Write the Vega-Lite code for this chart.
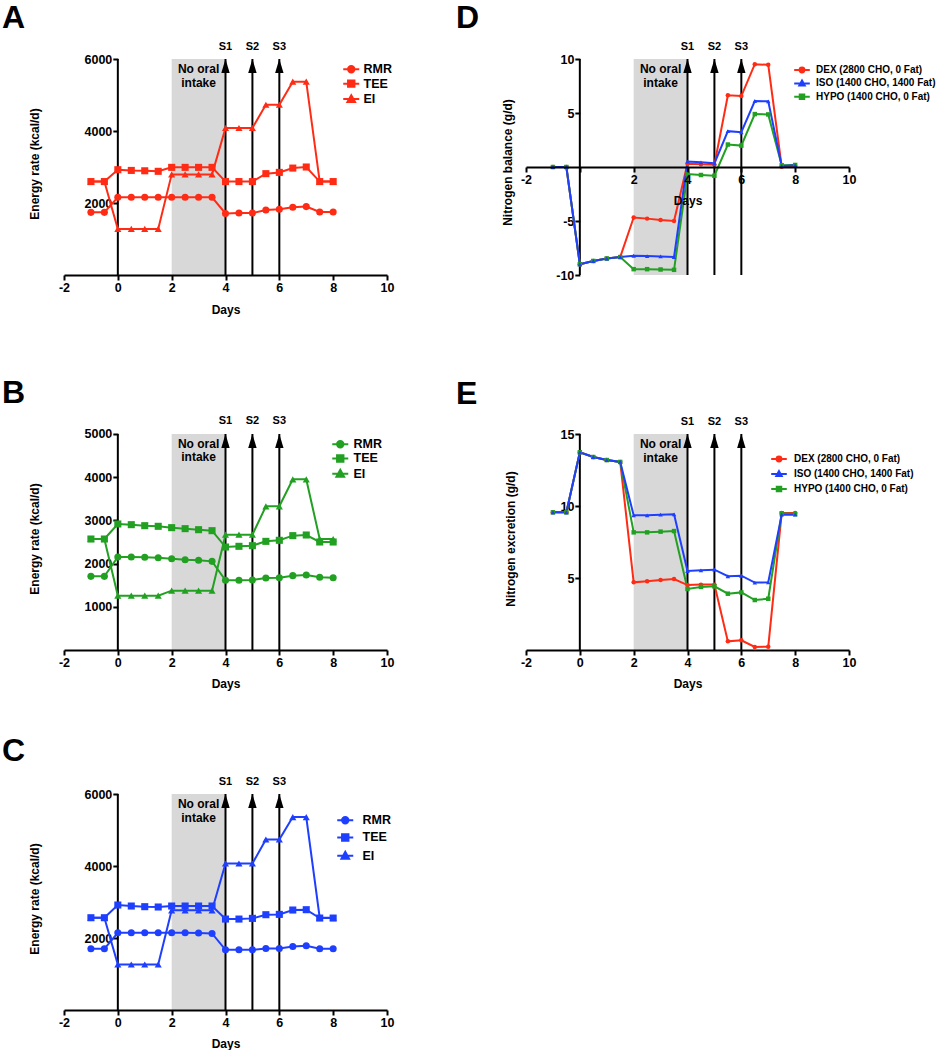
{
"$schema":"https://vega.github.io/schema/vega-lite/v6.json",
"padding":{"left":2,"top":1,"right":0,"bottom":0},
"columns":2,
"bounds":"flush",
"spacing":{"row":144,"column":139},
"resolve":{"scale":{"color":"independent","shape":"independent"},"legend":{"color":"independent","shape":"independent"}},
"config":{
 "font":"Liberation Sans",
 "view":{"stroke":null},
 "axis":{"domainColor":"black","domainWidth":2,"tickColor":"black","tickWidth":2,"tickSize":5,"labelColor":"black","titleColor":"black","labelFont":"Liberation Sans","titleFont":"Liberation Sans","labelFontSize":12.5,"labelFontWeight":"bold","titleFontSize":12,"titleFontWeight":"bold","labelPadding":1,"labelFlush":false,"labelOverlap":false,"grid":false,"labelExpr":"'' + datum.value"}
},
"datasets":{
 "shade":[{"from":2,"to":4}],
 "origin":[{"day":0}],
 "arrows":[{"day":4,"label":"S1"},{"day":5,"label":"S2"},{"day":6,"label":"S3"}],
 "note":[{"day":3,"text":"No oral\nintake"}],
 "dA":[
  {"day":-1,"measure":"RMR","kcal":1740},{"day":-0.5,"measure":"RMR","kcal":1740},{"day":0,"measure":"RMR","kcal":2160},{"day":0.5,"measure":"RMR","kcal":2160},{"day":1,"measure":"RMR","kcal":2160},{"day":1.5,"measure":"RMR","kcal":2160},{"day":2,"measure":"RMR","kcal":2160},{"day":2.5,"measure":"RMR","kcal":2160},{"day":3,"measure":"RMR","kcal":2160},{"day":3.5,"measure":"RMR","kcal":2160},{"day":4,"measure":"RMR","kcal":1710},{"day":4.5,"measure":"RMR","kcal":1720},{"day":5,"measure":"RMR","kcal":1720},{"day":5.5,"measure":"RMR","kcal":1805},{"day":6,"measure":"RMR","kcal":1825},{"day":6.5,"measure":"RMR","kcal":1880},{"day":7,"measure":"RMR","kcal":1900},{"day":7.5,"measure":"RMR","kcal":1750},{"day":8,"measure":"RMR","kcal":1750},
  {"day":-1,"measure":"TEE","kcal":2595},{"day":-0.5,"measure":"TEE","kcal":2595},{"day":0,"measure":"TEE","kcal":2925},{"day":0.5,"measure":"TEE","kcal":2905},{"day":1,"measure":"TEE","kcal":2895},{"day":1.5,"measure":"TEE","kcal":2880},{"day":2,"measure":"TEE","kcal":2990},{"day":2.5,"measure":"TEE","kcal":2990},{"day":3,"measure":"TEE","kcal":2990},{"day":3.5,"measure":"TEE","kcal":2990},{"day":4,"measure":"TEE","kcal":2595},{"day":4.5,"measure":"TEE","kcal":2595},{"day":5,"measure":"TEE","kcal":2595},{"day":5.5,"measure":"TEE","kcal":2815},{"day":6,"measure":"TEE","kcal":2850},{"day":6.5,"measure":"TEE","kcal":2970},{"day":7,"measure":"TEE","kcal":3000},{"day":7.5,"measure":"TEE","kcal":2595},{"day":8,"measure":"TEE","kcal":2595},
  {"day":-1,"measure":"EI","kcal":2595},{"day":-0.5,"measure":"EI","kcal":2595},{"day":0,"measure":"EI","kcal":1280},{"day":0.5,"measure":"EI","kcal":1280},{"day":1,"measure":"EI","kcal":1280},{"day":1.5,"measure":"EI","kcal":1280},{"day":2,"measure":"EI","kcal":2795},{"day":2.5,"measure":"EI","kcal":2795},{"day":3,"measure":"EI","kcal":2795},{"day":3.5,"measure":"EI","kcal":2795},{"day":4,"measure":"EI","kcal":4085},{"day":4.5,"measure":"EI","kcal":4085},{"day":5,"measure":"EI","kcal":4085},{"day":5.5,"measure":"EI","kcal":4730},{"day":6,"measure":"EI","kcal":4730},{"day":6.5,"measure":"EI","kcal":5370},{"day":7,"measure":"EI","kcal":5370},{"day":7.5,"measure":"EI","kcal":2595},{"day":8,"measure":"EI","kcal":2595}
 ],
 "dB":[
  {"day":-1,"measure":"RMR","kcal":1705},{"day":-0.5,"measure":"RMR","kcal":1705},{"day":0,"measure":"RMR","kcal":2153},{"day":0.5,"measure":"RMR","kcal":2153},{"day":1,"measure":"RMR","kcal":2145},{"day":1.5,"measure":"RMR","kcal":2137},{"day":2,"measure":"RMR","kcal":2114},{"day":2.5,"measure":"RMR","kcal":2091},{"day":3,"measure":"RMR","kcal":2076},{"day":3.5,"measure":"RMR","kcal":2052},{"day":4,"measure":"RMR","kcal":1613},{"day":4.5,"measure":"RMR","kcal":1613},{"day":5,"measure":"RMR","kcal":1620},{"day":5.5,"measure":"RMR","kcal":1667},{"day":6,"measure":"RMR","kcal":1674},{"day":6.5,"measure":"RMR","kcal":1721},{"day":7,"measure":"RMR","kcal":1736},{"day":7.5,"measure":"RMR","kcal":1682},{"day":8,"measure":"RMR","kcal":1674},
  {"day":-1,"measure":"TEE","kcal":2569},{"day":-0.5,"measure":"TEE","kcal":2569},{"day":0,"measure":"TEE","kcal":2917},{"day":0.5,"measure":"TEE","kcal":2901},{"day":1,"measure":"TEE","kcal":2878},{"day":1.5,"measure":"TEE","kcal":2863},{"day":2,"measure":"TEE","kcal":2832},{"day":2.5,"measure":"TEE","kcal":2809},{"day":3,"measure":"TEE","kcal":2785},{"day":3.5,"measure":"TEE","kcal":2762},{"day":4,"measure":"TEE","kcal":2384},{"day":4.5,"measure":"TEE","kcal":2400},{"day":5,"measure":"TEE","kcal":2415},{"day":5.5,"measure":"TEE","kcal":2515},{"day":6,"measure":"TEE","kcal":2539},{"day":6.5,"measure":"TEE","kcal":2647},{"day":7,"measure":"TEE","kcal":2662},{"day":7.5,"measure":"TEE","kcal":2500},{"day":8,"measure":"TEE","kcal":2500},
  {"day":-1,"measure":"EI","kcal":2569},{"day":-0.5,"measure":"EI","kcal":2569},{"day":0,"measure":"EI","kcal":1258},{"day":0.5,"measure":"EI","kcal":1258},{"day":1,"measure":"EI","kcal":1258},{"day":1.5,"measure":"EI","kcal":1258},{"day":2,"measure":"EI","kcal":1373},{"day":2.5,"measure":"EI","kcal":1373},{"day":3,"measure":"EI","kcal":1373},{"day":3.5,"measure":"EI","kcal":1373},{"day":4,"measure":"EI","kcal":2670},{"day":4.5,"measure":"EI","kcal":2670},{"day":5,"measure":"EI","kcal":2670},{"day":5.5,"measure":"EI","kcal":3326},{"day":6,"measure":"EI","kcal":3326},{"day":6.5,"measure":"EI","kcal":3951},{"day":7,"measure":"EI","kcal":3951},{"day":7.5,"measure":"EI","kcal":2569},{"day":8,"measure":"EI","kcal":2569}
 ],
 "dC":[
  {"day":-1,"measure":"RMR","kcal":1700},{"day":-0.5,"measure":"RMR","kcal":1700},{"day":0,"measure":"RMR","kcal":2145},{"day":0.5,"measure":"RMR","kcal":2145},{"day":1,"measure":"RMR","kcal":2145},{"day":1.5,"measure":"RMR","kcal":2145},{"day":2,"measure":"RMR","kcal":2145},{"day":2.5,"measure":"RMR","kcal":2145},{"day":3,"measure":"RMR","kcal":2140},{"day":3.5,"measure":"RMR","kcal":2127},{"day":4,"measure":"RMR","kcal":1672},{"day":4.5,"measure":"RMR","kcal":1672},{"day":5,"measure":"RMR","kcal":1672},{"day":5.5,"measure":"RMR","kcal":1709},{"day":6,"measure":"RMR","kcal":1709},{"day":6.5,"measure":"RMR","kcal":1765},{"day":7,"measure":"RMR","kcal":1783},{"day":7.5,"measure":"RMR","kcal":1700},{"day":8,"measure":"RMR","kcal":1700},
  {"day":-1,"measure":"TEE","kcal":2563},{"day":-0.5,"measure":"TEE","kcal":2563},{"day":0,"measure":"TEE","kcal":2916},{"day":0.5,"measure":"TEE","kcal":2888},{"day":1,"measure":"TEE","kcal":2870},{"day":1.5,"measure":"TEE","kcal":2861},{"day":2,"measure":"TEE","kcal":2888},{"day":2.5,"measure":"TEE","kcal":2888},{"day":3,"measure":"TEE","kcal":2888},{"day":3.5,"measure":"TEE","kcal":2888},{"day":4,"measure":"TEE","kcal":2526},{"day":4.5,"measure":"TEE","kcal":2526},{"day":5,"measure":"TEE","kcal":2545},{"day":5.5,"measure":"TEE","kcal":2647},{"day":6,"measure":"TEE","kcal":2656},{"day":6.5,"measure":"TEE","kcal":2777},{"day":7,"measure":"TEE","kcal":2786},{"day":7.5,"measure":"TEE","kcal":2554},{"day":8,"measure":"TEE","kcal":2554},
  {"day":-1,"measure":"EI","kcal":2563},{"day":-0.5,"measure":"EI","kcal":2563},{"day":0,"measure":"EI","kcal":1263},{"day":0.5,"measure":"EI","kcal":1263},{"day":1,"measure":"EI","kcal":1263},{"day":1.5,"measure":"EI","kcal":1263},{"day":2,"measure":"EI","kcal":2768},{"day":2.5,"measure":"EI","kcal":2768},{"day":3,"measure":"EI","kcal":2768},{"day":3.5,"measure":"EI","kcal":2768},{"day":4,"measure":"EI","kcal":4068},{"day":4.5,"measure":"EI","kcal":4068},{"day":5,"measure":"EI","kcal":4068},{"day":5.5,"measure":"EI","kcal":4737},{"day":6,"measure":"EI","kcal":4737},{"day":6.5,"measure":"EI","kcal":5359},{"day":7,"measure":"EI","kcal":5359},{"day":7.5,"measure":"EI","kcal":2563},{"day":8,"measure":"EI","kcal":2563}
 ],
 "dD":[
  {"day":-1,"diet":"DEX","balance":0},{"day":-0.5,"diet":"DEX","balance":0},{"day":0,"diet":"DEX","balance":-9.0},{"day":0.5,"diet":"DEX","balance":-8.7},{"day":1,"diet":"DEX","balance":-8.47},{"day":1.5,"diet":"DEX","balance":-8.34},{"day":2,"diet":"DEX","balance":-4.68},{"day":2.5,"diet":"DEX","balance":-4.78},{"day":3,"diet":"DEX","balance":-4.9},{"day":3.5,"diet":"DEX","balance":-4.99},{"day":4,"diet":"DEX","balance":0.31},{"day":4.5,"diet":"DEX","balance":0.25},{"day":5,"diet":"DEX","balance":0.22},{"day":5.5,"diet":"DEX","balance":6.64},{"day":6,"diet":"DEX","balance":6.57},{"day":6.5,"diet":"DEX","balance":9.52},{"day":7,"diet":"DEX","balance":9.46},{"day":7.5,"diet":"DEX","balance":0.03},{"day":8,"diet":"DEX","balance":0.12},
  {"day":-1,"diet":"HYPO","balance":0},{"day":-0.5,"diet":"HYPO","balance":0},{"day":0,"diet":"HYPO","balance":-9.0},{"day":0.5,"diet":"HYPO","balance":-8.7},{"day":1,"diet":"HYPO","balance":-8.47},{"day":1.5,"diet":"HYPO","balance":-8.34},{"day":2,"diet":"HYPO","balance":-9.46},{"day":2.5,"diet":"HYPO","balance":-9.46},{"day":3,"diet":"HYPO","balance":-9.49},{"day":3.5,"diet":"HYPO","balance":-9.52},{"day":4,"diet":"HYPO","balance":-0.65},{"day":4.5,"diet":"HYPO","balance":-0.74},{"day":5,"diet":"HYPO","balance":-0.81},{"day":5.5,"diet":"HYPO","balance":2.08},{"day":6,"diet":"HYPO","balance":1.98},{"day":6.5,"diet":"HYPO","balance":4.9},{"day":7,"diet":"HYPO","balance":4.87},{"day":7.5,"diet":"HYPO","balance":0.16},{"day":8,"diet":"HYPO","balance":0.19},
  {"day":-1,"diet":"ISO","balance":0},{"day":-0.5,"diet":"ISO","balance":0},{"day":0,"diet":"ISO","balance":-9.0},{"day":0.5,"diet":"ISO","balance":-8.7},{"day":1,"diet":"ISO","balance":-8.47},{"day":1.5,"diet":"ISO","balance":-8.34},{"day":2,"diet":"ISO","balance":-8.22},{"day":2.5,"diet":"ISO","balance":-8.25},{"day":3,"diet":"ISO","balance":-8.28},{"day":3.5,"diet":"ISO","balance":-8.34},{"day":4,"diet":"ISO","balance":0.5},{"day":4.5,"diet":"ISO","balance":0.43},{"day":5,"diet":"ISO","balance":0.34},{"day":5.5,"diet":"ISO","balance":3.32},{"day":6,"diet":"ISO","balance":3.22},{"day":6.5,"diet":"ISO","balance":6.11},{"day":7,"diet":"ISO","balance":6.08},{"day":7.5,"diet":"ISO","balance":0.09},{"day":8,"diet":"ISO","balance":0.16}
 ],
 "dE":[
  {"day":-1,"diet":"DEX","excretion":9.56},{"day":-0.5,"diet":"DEX","excretion":9.56},{"day":0,"diet":"DEX","excretion":13.73},{"day":0.5,"diet":"DEX","excretion":13.4},{"day":1,"diet":"DEX","excretion":13.19},{"day":1.5,"diet":"DEX","excretion":13.06},{"day":2,"diet":"DEX","excretion":4.7},{"day":2.5,"diet":"DEX","excretion":4.77},{"day":3,"diet":"DEX","excretion":4.86},{"day":3.5,"diet":"DEX","excretion":4.93},{"day":4,"diet":"DEX","excretion":4.51},{"day":4.5,"diet":"DEX","excretion":4.54},{"day":5,"diet":"DEX","excretion":4.54},{"day":5.5,"diet":"DEX","excretion":0.6},{"day":6,"diet":"DEX","excretion":0.67},{"day":6.5,"diet":"DEX","excretion":0.21},{"day":7,"diet":"DEX","excretion":0.23},{"day":7.5,"diet":"DEX","excretion":9.51},{"day":8,"diet":"DEX","excretion":9.51},
  {"day":-1,"diet":"HYPO","excretion":9.56},{"day":-0.5,"diet":"HYPO","excretion":9.56},{"day":0,"diet":"HYPO","excretion":13.73},{"day":0.5,"diet":"HYPO","excretion":13.4},{"day":1,"diet":"HYPO","excretion":13.19},{"day":1.5,"diet":"HYPO","excretion":13.06},{"day":2,"diet":"HYPO","excretion":8.17},{"day":2.5,"diet":"HYPO","excretion":8.17},{"day":3,"diet":"HYPO","excretion":8.22},{"day":3.5,"diet":"HYPO","excretion":8.26},{"day":4,"diet":"HYPO","excretion":4.24},{"day":4.5,"diet":"HYPO","excretion":4.38},{"day":5,"diet":"HYPO","excretion":4.42},{"day":5.5,"diet":"HYPO","excretion":3.91},{"day":6,"diet":"HYPO","excretion":4.0},{"day":6.5,"diet":"HYPO","excretion":3.47},{"day":7,"diet":"HYPO","excretion":3.56},{"day":7.5,"diet":"HYPO","excretion":9.49},{"day":8,"diet":"HYPO","excretion":9.44},
  {"day":-1,"diet":"ISO","excretion":9.56},{"day":-0.5,"diet":"ISO","excretion":9.56},{"day":0,"diet":"ISO","excretion":13.73},{"day":0.5,"diet":"ISO","excretion":13.4},{"day":1,"diet":"ISO","excretion":13.19},{"day":1.5,"diet":"ISO","excretion":13.06},{"day":2,"diet":"ISO","excretion":9.35},{"day":2.5,"diet":"ISO","excretion":9.35},{"day":3,"diet":"ISO","excretion":9.4},{"day":3.5,"diet":"ISO","excretion":9.42},{"day":4,"diet":"ISO","excretion":5.49},{"day":4.5,"diet":"ISO","excretion":5.53},{"day":5,"diet":"ISO","excretion":5.58},{"day":5.5,"diet":"ISO","excretion":5.12},{"day":6,"diet":"ISO","excretion":5.16},{"day":6.5,"diet":"ISO","excretion":4.68},{"day":7,"diet":"ISO","excretion":4.7},{"day":7.5,"diet":"ISO","excretion":9.4},{"day":8,"diet":"ISO","excretion":9.4}
 ]
},
"concat":[
 {
  "width":323,"height":216,
  "title":{"text":"A","anchor":"start","frame":"group","fontSize":32,"fontWeight":"bold","font":"Liberation Sans","color":"black","dx":-62,"baseline":"alphabetic","offset":-19},
  "layer":[
   {"data":{"name":"shade"},"mark":{"type":"rect","color":"#D8D8D8"},"encoding":{"x":{"field":"from","type":"quantitative","scale":{"domain":[-2,10],"nice":false,"zero":false},"axis":{"values":[-2,0,2,4,6,8,10],"title":"Days","titleY":34,"titleBaseline":"middle","zindex":1}},"x2":{"field":"to"},"y":{"datum":0,"type":"quantitative","scale":{"domain":[0,6000],"nice":false,"zero":false},"axis":{"values":[2000,4000,6000],"offset":-53.83,"domain":false,"title":"Energy rate (kcal/d)","titleX":-83,"titleY":104.5,"titleBaseline":"middle"}},"y2":{"datum":6000}}},
   {"data":{"name":"origin"},"mark":{"type":"rule","color":"black","strokeWidth":2},"encoding":{"x":{"field":"day","type":"quantitative"},"y":{"datum":0,"type":"quantitative"},"y2":{"datum":6000}}},
   {"data":{"name":"arrows"},"mark":{"type":"rule","color":"black","strokeWidth":2},"encoding":{"x":{"field":"day","type":"quantitative"},"y":{"datum":0,"type":"quantitative"},"y2":{"datum":6000}}},
   {"data":{"name":"arrows"},"mark":{"type":"point","filled":true,"color":"black","opacity":1,"size":196,"shape":"M0,0L0.6,2L-0.6,2Z"},"encoding":{"x":{"field":"day","type":"quantitative"},"y":{"datum":6000,"type":"quantitative"}}},
   {"data":{"name":"arrows"},"mark":{"type":"text","fontSize":11,"fontWeight":"bold","font":"Liberation Sans","color":"black","baseline":"alphabetic","dy":-9.5},"encoding":{"x":{"field":"day","type":"quantitative"},"y":{"datum":6000,"type":"quantitative"},"text":{"field":"label"}}},
   {"data":{"name":"note"},"mark":{"type":"text","fontSize":12,"fontWeight":"bold","font":"Liberation Sans","color":"black","baseline":"top","dy":5,"lineBreak":"\n","lineHeight":13.5},"encoding":{"x":{"field":"day","type":"quantitative"},"y":{"datum":6000,"type":"quantitative"},"text":{"field":"text"}}},
   {"data":{"name":"dA"},"mark":{"type":"line","color":"#FF2B14","strokeWidth":2},"encoding":{"x":{"field":"day","type":"quantitative"},"y":{"field":"kcal","type":"quantitative"},"detail":{"field":"measure"}}},
   {"data":{"name":"dA"},"mark":{"type":"point","filled":true,"size":50,"opacity":1},"encoding":{"x":{"field":"day","type":"quantitative"},"y":{"field":"kcal","type":"quantitative"},"shape":{"field":"measure","type":"nominal","scale":{"range":["triangle-up","circle","square"]},"legend":null},"color":{"field":"measure","type":"nominal","scale":{"domain":["RMR","TEE","EI"],"range":["#FF2B14","#FF2B14","#FF2B14"]},"legend":{"title":null,"orient":"none","legendX":281,"legendY":4,"direction":"vertical","padding":0,"labelFont":"Liberation Sans","labelFontSize":12.5,"labelFontWeight":"bold","labelColor":"black","labelOffset":6,"rowPadding":-0.6,"symbolSize":64,"encoding":{"symbols":{"shape":{"value":{"expr":"datum.value==='RMR' ? 'M-2,0H2M0.8,0A0.8,0.8,0,1,1,-0.8,0A0.8,0.8,0,1,1,0.8,0Z' : datum.value==='TEE' ? 'M-2,0H2M-0.8,-0.8H0.8V0.8H-0.8Z' : 'M-2,0H2M0,-0.95L0.95,0.75L-0.95,0.75Z'"}},"stroke":{"value":"#FF2B14"},"strokeWidth":{"value":2},"opacity":{"value":1}}}}}}}
  ]
 },
 {
  "width":323,"height":216,
  "title":{"text":"D","anchor":"start","frame":"group","fontSize":32,"fontWeight":"bold","font":"Liberation Sans","color":"black","dx":-70,"baseline":"alphabetic","offset":-19},
  "layer":[
   {"data":{"name":"shade"},"mark":{"type":"rect","color":"#D8D8D8"},"encoding":{"x":{"field":"from","type":"quantitative","scale":{"domain":[-2,10],"nice":false,"zero":false},"axis":{"values":[-2,0,2,4,6,8,10],"offset":-108,"labelExpr":"datum.value === 0 ? '' : '' + datum.value","title":"Days","titleY":33.3,"titleBaseline":"middle","zindex":1}},"x2":{"field":"to"},"y":{"datum":-10,"type":"quantitative","scale":{"domain":[-10,10],"nice":false,"zero":false},"axis":{"values":[-10,-5,5,10],"offset":-53.83,"domain":false,"title":"Nitrogen balance (g/d)","titleX":-72,"titleY":103,"titleBaseline":"middle"}},"y2":{"datum":10}}},
   {"data":{"name":"origin"},"mark":{"type":"rule","color":"black","strokeWidth":2},"encoding":{"x":{"field":"day","type":"quantitative"},"y":{"datum":-10,"type":"quantitative"},"y2":{"datum":10}}},
   {"data":{"name":"arrows"},"mark":{"type":"rule","color":"black","strokeWidth":2},"encoding":{"x":{"field":"day","type":"quantitative"},"y":{"datum":-10,"type":"quantitative"},"y2":{"datum":10}}},
   {"data":{"name":"arrows"},"mark":{"type":"point","filled":true,"color":"black","opacity":1,"size":196,"shape":"M0,0L0.6,2L-0.6,2Z"},"encoding":{"x":{"field":"day","type":"quantitative"},"y":{"datum":10,"type":"quantitative"}}},
   {"data":{"name":"arrows"},"mark":{"type":"text","fontSize":11,"fontWeight":"bold","font":"Liberation Sans","color":"black","baseline":"alphabetic","dy":-9.5},"encoding":{"x":{"field":"day","type":"quantitative"},"y":{"datum":10,"type":"quantitative"},"text":{"field":"label"}}},
   {"data":{"name":"note"},"mark":{"type":"text","fontSize":12,"fontWeight":"bold","font":"Liberation Sans","color":"black","baseline":"top","dy":5,"lineBreak":"\n","lineHeight":13.5},"encoding":{"x":{"field":"day","type":"quantitative"},"y":{"datum":10,"type":"quantitative"},"text":{"field":"text"}}},
   {"data":{"name":"dD"},"mark":{"type":"line","strokeWidth":2},"encoding":{"x":{"field":"day","type":"quantitative"},"y":{"field":"balance","type":"quantitative"},"color":{"field":"diet","type":"nominal","scale":{"domain":["DEX","ISO","HYPO"],"range":["#FF2B14","#1F3FFF","#22A022"]}}}},
   {"data":{"name":"dD"},"mark":{"type":"point","filled":true,"size":20,"opacity":1},"encoding":{"x":{"field":"day","type":"quantitative"},"y":{"field":"balance","type":"quantitative"},"shape":{"field":"diet","type":"nominal","scale":{"range":["circle","square","triangle-up"]},"legend":null},"color":{"field":"diet","type":"nominal","scale":{"domain":["DEX","ISO","HYPO"],"range":["#FF2B14","#1F3FFF","#22A022"]},"legend":{"title":null,"orient":"none","legendX":271,"legendY":6,"direction":"vertical","padding":0,"labelFont":"Liberation Sans","labelFontSize":10,"labelFontWeight":"bold","labelColor":"black","labelOffset":9,"rowPadding":-0.6,"symbolSize":36,"labelExpr":"datum.value === 'DEX' ? 'DEX (2800 CHO, 0 Fat)' : datum.value === 'ISO' ? 'ISO (1400 CHO, 1400 Fat)' : 'HYPO (1400 CHO, 0 Fat)'","encoding":{"symbols":{"shape":{"value":{"expr":"datum.value==='DEX' ? 'M-2.6,0H2.6M0.8,0A0.8,0.8,0,1,1,-0.8,0A0.8,0.8,0,1,1,0.8,0Z' : datum.value==='HYPO' ? 'M-2.6,0H2.6M-0.75,-0.75H0.75V0.75H-0.75Z' : 'M-2.6,0H2.6M0,-0.95L0.9,0.7L-0.9,0.7Z'"}},"stroke":{"value":{"expr":"datum.value==='DEX' ? '#FF2B14' : datum.value==='ISO' ? '#1F3FFF' : '#22A022'"}},"strokeWidth":{"value":2},"opacity":{"value":1}}}}}}}
  ]
 },
 {
  "width":323,"height":231,
  "title":{"text":"B","anchor":"start","frame":"group","fontSize":32,"fontWeight":"bold","font":"Liberation Sans","color":"black","dx":-62,"baseline":"alphabetic","offset":-20},
  "layer":[
   {"data":{"name":"shade"},"mark":{"type":"rect","color":"#D8D8D8"},"encoding":{"x":{"field":"from","type":"quantitative","scale":{"domain":[-2,10],"nice":false,"zero":false},"axis":{"values":[-2,0,2,4,6,8,10],"title":"Days","titleY":33.7,"titleBaseline":"middle","zindex":1}},"x2":{"field":"to"},"y":{"datum":0,"type":"quantitative","scale":{"domain":[0,5347.22],"nice":false,"zero":false},"axis":{"values":[1000,2000,3000,4000,5000],"offset":-53.83,"domain":false,"title":"Energy rate (kcal/d)","titleX":-83,"titleY":119.5,"titleBaseline":"middle"}},"y2":{"datum":5000}}},
   {"data":{"name":"origin"},"mark":{"type":"rule","color":"black","strokeWidth":2},"encoding":{"x":{"field":"day","type":"quantitative"},"y":{"datum":0,"type":"quantitative"},"y2":{"datum":5000}}},
   {"data":{"name":"arrows"},"mark":{"type":"rule","color":"black","strokeWidth":2},"encoding":{"x":{"field":"day","type":"quantitative"},"y":{"datum":0,"type":"quantitative"},"y2":{"datum":5000}}},
   {"data":{"name":"arrows"},"mark":{"type":"point","filled":true,"color":"black","opacity":1,"size":196,"shape":"M0,0L0.6,2L-0.6,2Z"},"encoding":{"x":{"field":"day","type":"quantitative"},"y":{"datum":5000,"type":"quantitative"}}},
   {"data":{"name":"arrows"},"mark":{"type":"text","fontSize":11,"fontWeight":"bold","font":"Liberation Sans","color":"black","baseline":"alphabetic","dy":-9.5},"encoding":{"x":{"field":"day","type":"quantitative"},"y":{"datum":5000,"type":"quantitative"},"text":{"field":"label"}}},
   {"data":{"name":"note"},"mark":{"type":"text","fontSize":12,"fontWeight":"bold","font":"Liberation Sans","color":"black","baseline":"top","dy":5,"lineBreak":"\n","lineHeight":13.5},"encoding":{"x":{"field":"day","type":"quantitative"},"y":{"datum":5000,"type":"quantitative"},"text":{"field":"text"}}},
   {"data":{"name":"dB"},"mark":{"type":"line","color":"#22A022","strokeWidth":2},"encoding":{"x":{"field":"day","type":"quantitative"},"y":{"field":"kcal","type":"quantitative"},"detail":{"field":"measure"}}},
   {"data":{"name":"dB"},"mark":{"type":"point","filled":true,"size":50,"opacity":1},"encoding":{"x":{"field":"day","type":"quantitative"},"y":{"field":"kcal","type":"quantitative"},"shape":{"field":"measure","type":"nominal","scale":{"range":["triangle-up","circle","square"]},"legend":null},"color":{"field":"measure","type":"nominal","scale":{"domain":["RMR","TEE","EI"],"range":["#22A022","#22A022","#22A022"]},"legend":{"title":null,"orient":"none","legendX":270,"legendY":19,"direction":"vertical","padding":0,"labelFont":"Liberation Sans","labelFontSize":12.5,"labelFontWeight":"bold","labelColor":"black","labelOffset":7,"rowPadding":-0.8,"symbolSize":64,"encoding":{"symbols":{"shape":{"value":{"expr":"datum.value==='RMR' ? 'M-2,0H2M0.8,0A0.8,0.8,0,1,1,-0.8,0A0.8,0.8,0,1,1,0.8,0Z' : datum.value==='TEE' ? 'M-2,0H2M-0.8,-0.8H0.8V0.8H-0.8Z' : 'M-2,0H2M0,-0.95L0.95,0.75L-0.95,0.75Z'"}},"stroke":{"value":"#22A022"},"strokeWidth":{"value":2},"opacity":{"value":1}}}}}}}
  ]
 },
 {
  "width":323,"height":231,
  "title":{"text":"E","anchor":"start","frame":"group","fontSize":32,"fontWeight":"bold","font":"Liberation Sans","color":"black","dx":-70,"baseline":"alphabetic","offset":-20},
  "layer":[
   {"data":{"name":"shade"},"mark":{"type":"rect","color":"#D8D8D8"},"encoding":{"x":{"field":"from","type":"quantitative","scale":{"domain":[-2,10],"nice":false,"zero":false},"axis":{"values":[-2,0,2,4,6,8,10],"title":"Days","titleY":33.7,"titleBaseline":"middle","zindex":1}},"x2":{"field":"to"},"y":{"datum":0,"type":"quantitative","scale":{"domain":[0,16.0417],"nice":false,"zero":false},"axis":{"values":[5,10,15],"offset":-53.83,"domain":false,"title":"Nitrogen excretion (g/d)","titleX":-69,"titleY":119.5,"titleBaseline":"middle"}},"y2":{"datum":15}}},
   {"data":{"name":"origin"},"mark":{"type":"rule","color":"black","strokeWidth":2},"encoding":{"x":{"field":"day","type":"quantitative"},"y":{"datum":0,"type":"quantitative"},"y2":{"datum":15}}},
   {"data":{"name":"arrows"},"mark":{"type":"rule","color":"black","strokeWidth":2},"encoding":{"x":{"field":"day","type":"quantitative"},"y":{"datum":0,"type":"quantitative"},"y2":{"datum":15}}},
   {"data":{"name":"arrows"},"mark":{"type":"point","filled":true,"color":"black","opacity":1,"size":196,"shape":"M0,0L0.6,2L-0.6,2Z"},"encoding":{"x":{"field":"day","type":"quantitative"},"y":{"datum":15,"type":"quantitative"}}},
   {"data":{"name":"arrows"},"mark":{"type":"text","fontSize":11,"fontWeight":"bold","font":"Liberation Sans","color":"black","baseline":"alphabetic","dy":-9.5},"encoding":{"x":{"field":"day","type":"quantitative"},"y":{"datum":15,"type":"quantitative"},"text":{"field":"label"}}},
   {"data":{"name":"note"},"mark":{"type":"text","fontSize":12,"fontWeight":"bold","font":"Liberation Sans","color":"black","baseline":"top","dy":5,"lineBreak":"\n","lineHeight":13.5},"encoding":{"x":{"field":"day","type":"quantitative"},"y":{"datum":15,"type":"quantitative"},"text":{"field":"text"}}},
   {"data":{"name":"dE"},"mark":{"type":"line","strokeWidth":2},"encoding":{"x":{"field":"day","type":"quantitative"},"y":{"field":"excretion","type":"quantitative"},"color":{"field":"diet","type":"nominal","scale":{"domain":["DEX","ISO","HYPO"],"range":["#FF2B14","#1F3FFF","#22A022"]}}}},
   {"data":{"name":"dE"},"mark":{"type":"point","filled":true,"size":20,"opacity":1},"encoding":{"x":{"field":"day","type":"quantitative"},"y":{"field":"excretion","type":"quantitative"},"shape":{"field":"diet","type":"nominal","scale":{"range":["circle","square","triangle-up"]},"legend":null},"color":{"field":"diet","type":"nominal","scale":{"domain":["DEX","ISO","HYPO"],"range":["#FF2B14","#1F3FFF","#22A022"]},"legend":{"title":null,"orient":"none","legendX":248,"legendY":35,"direction":"vertical","padding":0,"labelFont":"Liberation Sans","labelFontSize":10,"labelFontWeight":"bold","labelColor":"black","labelOffset":10,"rowPadding":1,"symbolSize":36,"labelExpr":"datum.value === 'DEX' ? 'DEX (2800 CHO, 0 Fat)' : datum.value === 'ISO' ? 'ISO (1400 CHO, 1400 Fat)' : 'HYPO (1400 CHO, 0 Fat)'","encoding":{"symbols":{"shape":{"value":{"expr":"datum.value==='DEX' ? 'M-2.6,0H2.6M0.8,0A0.8,0.8,0,1,1,-0.8,0A0.8,0.8,0,1,1,0.8,0Z' : datum.value==='HYPO' ? 'M-2.6,0H2.6M-0.75,-0.75H0.75V0.75H-0.75Z' : 'M-2.6,0H2.6M0,-0.95L0.9,0.7L-0.9,0.7Z'"}},"stroke":{"value":{"expr":"datum.value==='DEX' ? '#FF2B14' : datum.value==='ISO' ? '#1F3FFF' : '#22A022'"}},"strokeWidth":{"value":2},"opacity":{"value":1}}}}}}}
  ]
 },
 {
  "width":323,"height":216,
  "title":{"text":"C","anchor":"start","frame":"group","fontSize":32,"fontWeight":"bold","font":"Liberation Sans","color":"black","dx":-62,"baseline":"alphabetic","offset":-17},
  "layer":[
   {"data":{"name":"shade"},"mark":{"type":"rect","color":"#D8D8D8"},"encoding":{"x":{"field":"from","type":"quantitative","scale":{"domain":[-2,10],"nice":false,"zero":false},"axis":{"values":[-2,0,2,4,6,8,10],"title":"Days","titleY":33.7,"titleBaseline":"middle","zindex":1}},"x2":{"field":"to"},"y":{"datum":0,"type":"quantitative","scale":{"domain":[0,6000],"nice":false,"zero":false},"axis":{"values":[2000,4000,6000],"offset":-53.83,"domain":false,"title":"Energy rate (kcal/d)","titleX":-83,"titleY":104.5,"titleBaseline":"middle"}},"y2":{"datum":6000}}},
   {"data":{"name":"origin"},"mark":{"type":"rule","color":"black","strokeWidth":2},"encoding":{"x":{"field":"day","type":"quantitative"},"y":{"datum":0,"type":"quantitative"},"y2":{"datum":6000}}},
   {"data":{"name":"arrows"},"mark":{"type":"rule","color":"black","strokeWidth":2},"encoding":{"x":{"field":"day","type":"quantitative"},"y":{"datum":0,"type":"quantitative"},"y2":{"datum":6000}}},
   {"data":{"name":"arrows"},"mark":{"type":"point","filled":true,"color":"black","opacity":1,"size":196,"shape":"M0,0L0.6,2L-0.6,2Z"},"encoding":{"x":{"field":"day","type":"quantitative"},"y":{"datum":6000,"type":"quantitative"}}},
   {"data":{"name":"arrows"},"mark":{"type":"text","fontSize":11,"fontWeight":"bold","font":"Liberation Sans","color":"black","baseline":"alphabetic","dy":-9.5},"encoding":{"x":{"field":"day","type":"quantitative"},"y":{"datum":6000,"type":"quantitative"},"text":{"field":"label"}}},
   {"data":{"name":"note"},"mark":{"type":"text","fontSize":12,"fontWeight":"bold","font":"Liberation Sans","color":"black","baseline":"top","dy":5,"lineBreak":"\n","lineHeight":13.5},"encoding":{"x":{"field":"day","type":"quantitative"},"y":{"datum":6000,"type":"quantitative"},"text":{"field":"text"}}},
   {"data":{"name":"dC"},"mark":{"type":"line","color":"#1F3FFF","strokeWidth":2},"encoding":{"x":{"field":"day","type":"quantitative"},"y":{"field":"kcal","type":"quantitative"},"detail":{"field":"measure"}}},
   {"data":{"name":"dC"},"mark":{"type":"point","filled":true,"size":50,"opacity":1},"encoding":{"x":{"field":"day","type":"quantitative"},"y":{"field":"kcal","type":"quantitative"},"shape":{"field":"measure","type":"nominal","scale":{"range":["triangle-up","circle","square"]},"legend":null},"color":{"field":"measure","type":"nominal","scale":{"domain":["RMR","TEE","EI"],"range":["#1F3FFF","#1F3FFF","#1F3FFF"]},"legend":{"title":null,"orient":"none","legendX":275,"legendY":20,"direction":"vertical","padding":0,"labelFont":"Liberation Sans","labelFontSize":12.5,"labelFontWeight":"bold","labelColor":"black","labelOffset":11,"rowPadding":2.2,"symbolSize":64,"encoding":{"symbols":{"shape":{"value":{"expr":"datum.value==='RMR' ? 'M-2,0H2M0.8,0A0.8,0.8,0,1,1,-0.8,0A0.8,0.8,0,1,1,0.8,0Z' : datum.value==='TEE' ? 'M-2,0H2M-0.8,-0.8H0.8V0.8H-0.8Z' : 'M-2,0H2M0,-0.95L0.95,0.75L-0.95,0.75Z'"}},"stroke":{"value":"#1F3FFF"},"strokeWidth":{"value":2},"opacity":{"value":1}}}}}}}
  ]
 }
]
}
